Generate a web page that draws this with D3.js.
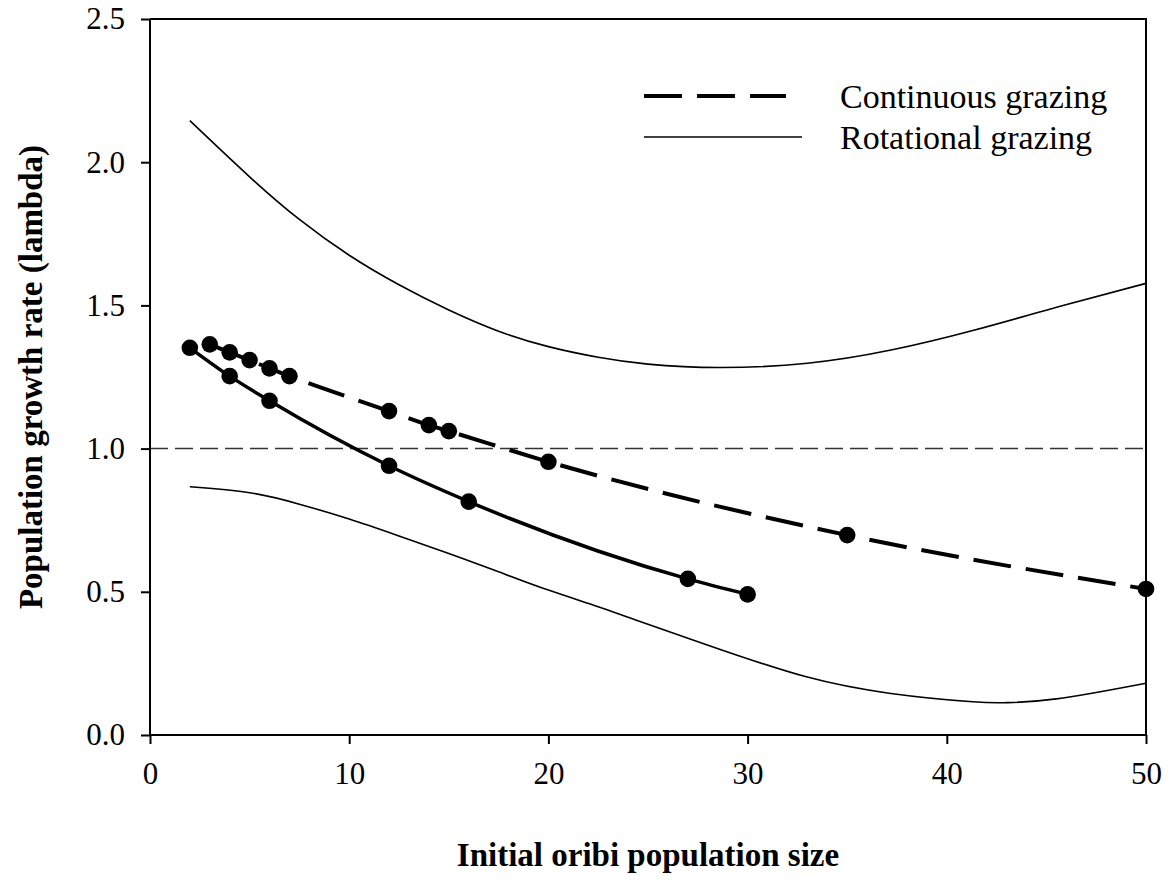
<!DOCTYPE html>
<html>
<head>
<meta charset="utf-8">
<script src="https://cdn.jsdelivr.net/npm/d3@7"></script>
<style>
  body { margin: 0; background: #fff; }
  svg { display: block; font-family: "Liberation Serif", "Times New Roman", serif; }
</style>
</head>
<body>
<div id="chart"></div>
<script>
// continuous grazing (dashed, with dots)
const contX = [3, 4, 5, 6, 7, 12, 14, 15, 20, 35, 50];
const contY = [1.364, 1.336, 1.309, 1.280, 1.253, 1.131, 1.082, 1.061, 0.954, 0.698, 0.510];

// rotational grazing (solid, with dots)
const rotX = [2, 4, 6, 12, 16, 27, 30];
const rotY = [1.352, 1.253, 1.167, 0.940, 0.815, 0.545, 0.491];

// thin outer curves
const upperX = [2, 5, 7.5, 10, 12.5, 15, 17.5, 20, 22.5, 25, 28.6, 33, 37.2, 41.4, 45.6, 50];
const upperY = [2.145, 1.949, 1.800, 1.675, 1.572, 1.484, 1.410, 1.356, 1.319, 1.295, 1.283, 1.298, 1.344, 1.414, 1.495, 1.577];
const lowerX = [2, 5, 7.5, 10, 12.5, 15, 17.5, 20, 22.5, 24.6, 28.7, 32.9, 37.1, 41.3, 43, 45.5, 50];
const lowerY = [0.867, 0.846, 0.806, 0.754, 0.695, 0.634, 0.570, 0.506, 0.448, 0.396, 0.297, 0.204, 0.146, 0.116, 0.113, 0.126, 0.181];

const xTicks = [0, 10, 20, 30, 40, 50];
const yTicks = [0, 0.5, 1.0, 1.5, 2.0, 2.5];
const refLine = 1.0;
const legendLabels = ["Continuous grazing", "Rotational grazing"];

const width = 1168, height = 884;
const margin = {top: 19, right: 22, bottom: 149, left: 150};

const svg = d3.select("#chart").append("svg")
    .attr("width", width)
    .attr("height", height)
    .attr("viewBox", [0, 0, width, height]);

const x = d3.scaleLinear().domain([0, 50]).range([margin.left, width - margin.right]);
const y = d3.scaleLinear().domain([0, 2.5]).range([height - margin.bottom, margin.top]);

const zip = (xs, ys) => xs.map((v, i) => [v, ys[i]]);
const line = d3.line().x(d => x(d[0])).y(d => y(d[1])).curve(d3.curveMonotoneX);
const smooth = d3.line().x(d => x(d[0])).y(d => y(d[1])).curve(d3.curveNatural);

// reference line at lambda = 1
svg.append("line")
    .attr("x1", x(0)).attr("x2", x(50))
    .attr("y1", y(refLine)).attr("y2", y(refLine))
    .attr("stroke", "#333")
    .attr("stroke-width", 1.5)
    .attr("stroke-dasharray", "18,7");

// thin curves
[zip(upperX, upperY), zip(lowerX, lowerY)].forEach(pts => {
  svg.append("path")
      .attr("d", smooth(pts))
      .attr("fill", "none")
      .attr("stroke", "#000")
      .attr("stroke-width", 1.6);
});

// fitted lines
svg.append("path")
    .attr("d", line(zip(contX, contY)))
    .attr("fill", "none")
    .attr("stroke", "#000")
    .attr("stroke-width", 4)
    .attr("stroke-dasharray", "38,15");

svg.append("path")
    .attr("d", line(zip(rotX, rotY)))
    .attr("fill", "none")
    .attr("stroke", "#000")
    .attr("stroke-width", 3.5);

// dots
svg.selectAll("circle.pt")
  .data(zip(contX, contY).concat(zip(rotX, rotY)))
  .join("circle")
    .attr("class", "pt")
    .attr("cx", d => x(d[0]))
    .attr("cy", d => y(d[1]))
    .attr("r", 8.3)
    .attr("fill", "#000");

// axes
const xAxis = svg.append("g")
    .attr("transform", `translate(0,${y(0)})`)
    .call(d3.axisBottom(x).tickValues(xTicks).tickSize(9).tickPadding(18).tickFormat(d3.format("d")));
const yAxis = svg.append("g")
    .attr("transform", `translate(${x(0)},0)`)
    .call(d3.axisLeft(y).tickValues(yTicks).tickSize(9).tickPadding(16).tickFormat(d3.format(".1f")));

[xAxis, yAxis].forEach(g => {
  g.select(".domain").attr("stroke-width", 2);
  g.selectAll(".tick line").attr("stroke-width", 2);
  g.selectAll(".tick text").attr("font-size", 31).attr("font-family", "Liberation Serif");
});
xAxis.select(".domain").attr("d", `M${x(0)},0H${x(50)}`);
yAxis.select(".domain").attr("d", `M0,${y(0)}V${y(2.5)}`);

// top and right frame
svg.append("path")
    .attr("d", `M${x(0)},${y(2.5)}H${x(50)}V${y(0)}`)
    .attr("fill", "none")
    .attr("stroke", "#000")
    .attr("stroke-width", 2);

// legend
const legend = svg.append("g");
legend.append("line")
    .attr("x1", 644).attr("x2", 786).attr("y1", 96).attr("y2", 96)
    .attr("stroke", "#000").attr("stroke-width", 4)
    .attr("stroke-dasharray", "38,15");
legend.append("line")
    .attr("x1", 644).attr("x2", 802).attr("y1", 137).attr("y2", 137)
    .attr("stroke", "#000").attr("stroke-width", 1.6);
legend.selectAll("text")
  .data(legendLabels)
  .join("text")
    .attr("x", 840)
    .attr("y", (d, i) => 96 + i * 41)
    .attr("dy", "0.35em")
    .attr("font-size", 34)
    .text(d => d);

// axis titles
svg.append("text")
    .attr("x", (x(0) + x(50)) / 2)
    .attr("y", 866)
    .attr("text-anchor", "middle")
    .attr("font-size", 33)
    .attr("font-weight", "bold")
    .text("Initial oribi population size");

svg.append("text")
    .attr("transform", `translate(42,${(y(0) + y(2.5)) / 2}) rotate(-90)`)
    .attr("text-anchor", "middle")
    .attr("font-size", 33)
    .attr("font-weight", "bold")
    .text("Population growth rate (lambda)");
</script>
</body>
</html>
